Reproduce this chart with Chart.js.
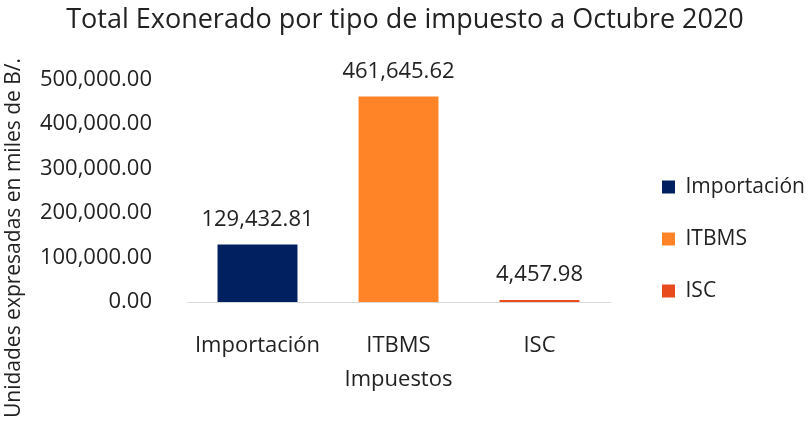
<!DOCTYPE html>
<html lang="es">
<head>
<meta charset="UTF-8">
<title>Total Exonerado por tipo de impuesto a Octubre 2020</title>
<script src="https://cdn.jsdelivr.net/npm/chart.js@4.4.0/dist/chart.umd.min.js"></script>
<style>
  html, body { margin: 0; padding: 0; background: #fff; }
  .chart-box { width: 810px; height: 424px; }
</style>
</head>
<body>
<div class="chart-box"><canvas id="exoChart"></canvas></div>
<script>
const categorias = ['Importación', 'ITBMS', 'ISC'];
const montos = [129432.81, 461645.62, 4457.98];
const colores = ['#002060', '#FF8427', '#E84B1E'];
const ticksY = [0, 100000, 200000, 300000, 400000, 500000];

const FONT = "'Open Sans', sans-serif";
const TEXTO = '#222222';

const fmt = v => v.toLocaleString('en-US', { minimumFractionDigits: 2, maximumFractionDigits: 2 });

Chart.defaults.font.family = FONT;
Chart.defaults.color = TEXTO;

// valor encima de cada barra
const etiquetasValor = {
  id: 'etiquetasValor',
  afterDatasetsDraw(chart) {
    const ctx = chart.ctx;
    const meta = chart.getDatasetMeta(0);
    ctx.save();
    ctx.font = `22px ${FONT}`;
    ctx.fillStyle = TEXTO;
    ctx.textAlign = 'center';
    ctx.textBaseline = 'middle';
    meta.data.forEach((bar, i) => {
      ctx.fillText(fmt(chart.data.datasets[0].data[i]), bar.x, bar.y - 25);
    });
    ctx.restore();
  }
};

// título del eje Y, arrancando desde el pie del lienzo
const tituloEjeY = {
  id: 'tituloEjeY',
  afterDraw(chart, args, opts) {
    const ctx = chart.ctx;
    ctx.save();
    ctx.translate(opts.x, opts.y);
    ctx.rotate(-Math.PI / 2);
    ctx.font = `${opts.size}px ${FONT}`;
    ctx.fillStyle = TEXTO;
    ctx.textAlign = 'left';
    ctx.textBaseline = 'middle';
    ctx.fillText(opts.text, 0, 0);
    ctx.restore();
  }
};

new Chart(document.getElementById('exoChart'), {
  type: 'bar',
  data: {
    labels: categorias,
    datasets: [{
      label: 'Total Exonerado',
      data: montos,
      backgroundColor: colores,
      barPercentage: 0.567,
      categoryPercentage: 1
    }]
  },
  options: {
    responsive: true,
    maintainAspectRatio: false,
    animation: false,
    layout: { padding: 0 },
    scales: {
      x: {
        grid: { display: false },
        border: { color: '#d9d9d9', width: 1 },
        ticks: { color: TEXTO, font: { size: 22 }, padding: 23 },
        title: {
          display: true, text: 'Impuestos', color: TEXTO,
          font: { size: 22 }, padding: { top: 15, bottom: 31 }
        },
        afterFit(s) { s.height = 122; }
      },
      y: {
        min: ticksY[0],
        max: ticksY[ticksY.length - 1],
        afterBuildTicks(s) { s.ticks = ticksY.map(v => ({ value: v })); },
        ticks: { color: TEXTO, font: { size: 22 }, padding: 27, callback: v => fmt(v) },
        grid: { display: false },
        border: { display: false },
        afterFit(s) { s.width = 187; }
      },
      margen: {
        type: 'linear',
        position: 'right',
        grid: { display: false },
        ticks: { display: false },
        border: { display: false },
        afterFit(s) { s.width = 21; }
      }
    },
    plugins: {
      title: {
        display: true,
        text: 'Total Exonerado por tipo de impuesto a Octubre 2020',
        color: TEXTO,
        font: { size: 27, weight: 'normal' },
        padding: { top: 4, bottom: 43 }
      },
      legend: {
        position: 'right',
        maxWidth: 179,
        title: { display: true, text: ' ', padding: { top: 39.6, bottom: 0 } },
        labels: {
          boxWidth: 13,
          boxHeight: 13,
          padding: 31,
          color: TEXTO,
          font: { size: 21 },
          generateLabels: chart => chart.data.labels.map((lab, i) => ({
            text: lab,
            fillStyle: colores[i],
            strokeStyle: colores[i],
            lineWidth: 0,
            hidden: false,
            index: i,
            fontColor: TEXTO
          }))
        }
      },
      tooltip: { enabled: false },
      tituloEjeY: { text: 'Unidades expresadas en miles de B/.', x: 14, y: 418, size: 21 }
    }
  },
  plugins: [etiquetasValor, tituloEjeY]
});
</script>
</body>
</html>
